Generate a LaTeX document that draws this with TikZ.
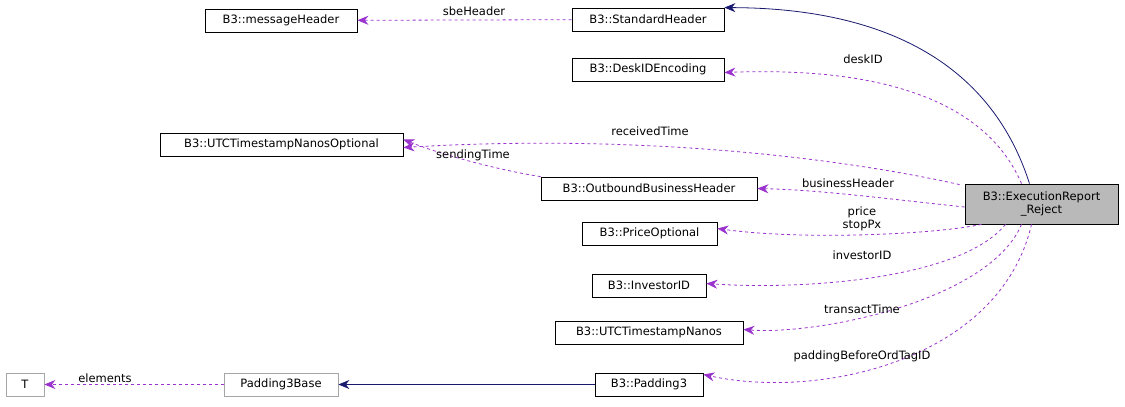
\documentclass[tikz,border=0pt]{standalone}
\usepackage{fontspec}
\setmainfont{DejaVu Sans}
\usetikzlibrary{arrows.meta, positioning}
\definecolor{usepurple}{RGB}{154, 50, 205}
\definecolor{inhnavy}{RGB}{25, 25, 112}

\begin{document}
\begin{tikzpicture}[x=1pt, y=-1pt, line width=0.8pt,
  cls/.style={rectangle, draw, fill=white, minimum height=23pt, inner xsep=4pt, font=\fontsize{11.5}{13.5}\selectfont},
  ext/.style={cls, draw=gray!70},
  usage/.style={-{Stealth[length=11pt,width=9pt]}, dashed, usepurple},
  inherit/.style={-{Stealth[length=11pt,width=9pt]}, inhnavy},
  lbl/.style={font=\fontsize{11.5}{12.5}\selectfont, align=center, inner sep=1pt, text=black}]
\useasboundingbox (0,0) rectangle (1125,407);

% classes
\node[cls, minimum width=152pt] (msghdr) at (281,20.5) {B3::messageHeader};
\node[cls, minimum width=152pt] (stdhdr) at (648,19.5) {B3::StandardHeader};
\node[cls, minimum width=152pt] (deskid) at (648,69.5) {B3::DeskIDEncoding};
\node[cls, minimum width=243pt] (utcopt) at (281.5,144.5) {B3::UTCTimestampNanosOptional};
\node[cls, minimum width=216pt] (obh) at (649,188.5) {B3::OutboundBusinessHeader};
\node[cls, minimum width=153pt, minimum height=40pt, fill=gray!55, align=center] (reject) at (1041.5,204) {B3::ExecutionReport\\\_Reject};
\node[cls, minimum width=135pt] (price) at (649.5,233.5) {B3::PriceOptional};
\node[cls, minimum width=114pt] (investor) at (649,285.5) {B3::InvestorID};
\node[cls, minimum width=188pt] (utcts) at (649,332.5) {B3::UTCTimestampNanos};
\node[cls, minimum width=108pt] (pad3) at (649,384.5) {B3::Padding3};
\node[ext, minimum width=114pt] (padbase) at (281,384.5) {Padding3Base};
\node[ext, minimum width=38pt] (tparam) at (25,384.5) {T};

% inheritance
\draw[inherit] ([xshift=-12pt]reject.north) .. controls (990,60) and (880,8) .. (stdhdr.north east);
\draw[inherit] (pad3) -- (padbase);

% usage
\draw[usage] (stdhdr) -- (msghdr);
\draw[usage] ([xshift=-20pt]reject.north) .. controls (990,110) and (900,66) .. ([yshift=-3pt]deskid.east);
\draw[usage] ([xshift=-5pt,yshift=-1pt]reject.north west) .. controls (850,160) and (650,133) .. ([yshift=-3pt]utcopt.east);
\draw[usage] (obh.north west) .. controls (510,172) and (450,158) .. ([yshift=5pt]utcopt.east);
\draw[usage] ([yshift=-3pt]reject.west) .. controls (880,198) and (820,190) .. (obh.east);
\draw[usage] ([xshift=-60pt]reject.south) .. controls (930,235) and (800,240) .. ([yshift=5pt]price.east);
\draw[usage] ([xshift=-36pt]reject.south) .. controls (960,280) and (800,290) .. ([yshift=2pt]investor.east);
\draw[usage] ([xshift=-20pt]reject.south) .. controls (990,300) and (820,335) .. ([yshift=3pt]utcts.east);
\draw[usage] ([xshift=-10pt]reject.south) .. controls (1000,360) and (820,400) .. ([yshift=10pt]pad3.east);
\draw[usage] (padbase) -- (tparam);

% edge labels
\node[lbl] (lsbe) at (474,11) {sbeHeader};
\node[lbl] (ldesk) at (863,59) {deskID};
\node[lbl] (lrecv) at (650,131) {receivedTime};
\node[lbl] (lsend) at (473,155) {sendingTime};
\node[lbl] (lbus) at (848,183) {businessHeader};
\node[lbl] (lprice) at (862,219) {price\\stopPx};
\node[lbl] (linv) at (862,255) {investorID};
\node[lbl] (ltrans) at (862,309) {transactTime};
\node[lbl] (lpad) at (862,356) {paddingBeforeOrdTagID};
\node[lbl] (lelem) at (105,378) {elements};
\end{tikzpicture}
\end{document}
